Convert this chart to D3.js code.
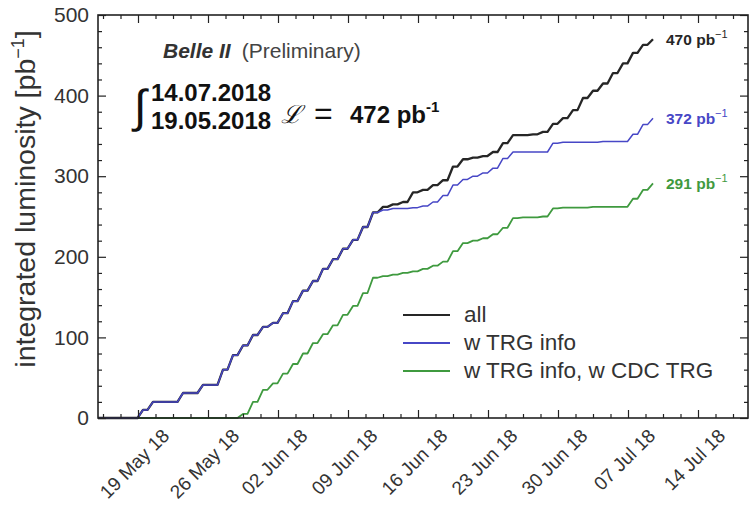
<!DOCTYPE html>
<html><head><meta charset="utf-8">
<script src="https://cdn.jsdelivr.net/npm/d3@7"></script>
<style>
body{margin:0;background:#fff}
svg{display:block}
text{font-family:"Liberation Sans",Arial,sans-serif}
</style>
</head><body>
<svg id="c" width="749" height="511"></svg>
<script>
// ---------- data ----------
const dates = ["2018-05-15 00",
 "2018-05-15 12","2018-05-16 12","2018-05-17 12","2018-05-18 12","2018-05-19 12","2018-05-20 12","2018-05-21 12","2018-05-22 12",
 "2018-05-23 12","2018-05-24 12","2018-05-25 12","2018-05-26 12","2018-05-27 12","2018-05-28 12","2018-05-29 12","2018-05-30 12",
 "2018-05-31 12","2018-06-01 12","2018-06-02 12","2018-06-03 12","2018-06-04 12","2018-06-05 12","2018-06-06 12","2018-06-07 12",
 "2018-06-08 12","2018-06-09 12","2018-06-10 12","2018-06-11 12","2018-06-12 12","2018-06-13 12","2018-06-14 12","2018-06-15 12",
 "2018-06-16 12","2018-06-17 12","2018-06-18 12","2018-06-19 12","2018-06-20 12","2018-06-21 12","2018-06-22 12","2018-06-23 12",
 "2018-06-24 12","2018-06-25 12","2018-06-26 12","2018-06-27 12","2018-06-28 12","2018-06-29 12","2018-06-30 12","2018-07-01 12",
 "2018-07-02 12","2018-07-03 12","2018-07-04 12","2018-07-05 12","2018-07-06 12","2018-07-07 12","2018-07-08 12","2018-07-09 12"];
const allLumi = [0,
 0,0,0,0,10,20,20,20, 31,31,41,41,60,78,90,103, 113,118,130,145,158,170,185,197,
 210,221,237,255,262,265,268,280, 283,289,295,312,321,323,325,330, 341,351,351,352,355,365,372,382,
 397,406,415,428,440,453,463,470];
const trgLumi = [0,
 0,0,0,0,10,20,20,20, 31,31,41,41,60,78,90,103, 113,118,130,145,158,170,185,197,
 210,221,237,255,258,260,260,261, 263,268,276,289,296,300,304,310, 322,330,330,330,330,341,342,342,
 342,342,343,343,343,352,364,372];
const cdcLumi = [0,
 0,0,0,0,0,0,0,0, 0,0,0,0,0,0,5,20, 35,43,55,67,80,93,104,115,
 128,139,155,174,176,178,180,182, 185,189,194,207,217,220,223,228, 236,248,249,249,250,260,261,261,
 261,262,262,262,262,272,283,291];
const seriesNames = ["all", "w TRG info", "w TRG info, w CDC TRG"];
const seriesColors = ["#262626", "#4747c6", "#3f9a3f"];
const endTotals = ["470", "372", "291"];
const yTickValues = [0, 100, 200, 300, 400, 500];
const xTickDates = ["2018-05-19","2018-05-26","2018-06-02","2018-06-09","2018-06-16","2018-06-23","2018-06-30","2018-07-07","2018-07-14"];

// ---------- layout ----------
const svg = d3.select("#c");
const L = 98, R = 748, T = 15, B = 418;
const parse = d3.timeParse("%Y-%m-%d %H");
const parseDay = d3.timeParse("%Y-%m-%d");
const x = d3.scaleTime().domain([parseDay("2018-05-15"), parseDay("2018-07-19")]).range([L, R]);
const y = d3.scaleLinear().domain([0, 500]).range([B, T]);

const tDates = dates.map(parse);
const majors = xTickDates.map(parseDay);
const minorX = [];
const step = 7 * 864e5 / 4;
for (let t = majors[0].getTime() - 3 * step; t <= x.domain()[1].getTime(); t += step) {
  if ((t - majors[0].getTime()) % (7 * 864e5) !== 0 && t >= x.domain()[0].getTime()) minorX.push(new Date(t));
}
const minorY = d3.range(0, 501, 20).filter(v => v % 100 !== 0);

// ramped step curve: hold value, then rise to the next point
function RampCurve(context) { this._context = context; }
RampCurve.prototype = {
  areaStart() {}, areaEnd() {},
  lineStart() { this._x = this._y = NaN; this._point = 0; },
  lineEnd() {},
  point(px, py) {
    px = +px; py = +py;
    if (this._point === 0) { this._point = 1; this._context.moveTo(px, py); }
    else {
      if (py === this._y) this._context.lineTo(px, py);
      else {
        this._context.lineTo(this._x + (px - this._x) * 0.45, this._y);
        this._context.lineTo(px, py);
      }
    }
    this._x = px; this._y = py;
  }
};
const curveRamp = ctx => new RampCurve(ctx);

// ---------- lines ----------
const line = d3.line().x((d, i) => x(tDates[i])).y(d => y(d)).curve(curveRamp);
const gLines = svg.append("g").attr("fill", "none").attr("stroke-linejoin", "round");
gLines.append("path").attr("d", line(cdcLumi)).attr("stroke", seriesColors[2]).attr("stroke-width", 1.8);
gLines.append("path").attr("d", line(allLumi)).attr("stroke", seriesColors[0]).attr("stroke-width", 2.3);
gLines.append("path").attr("d", line(trgLumi)).attr("stroke", seriesColors[1]).attr("stroke-width", 1.5);

// ---------- axes ----------
function styleAxis(g) {
  g.select(".domain").remove();
  g.selectAll(".tick line").attr("stroke", "#222").attr("stroke-width", 1.2);
}
const gB = svg.append("g").attr("transform", `translate(0,${B})`)
  .call(d3.axisBottom(x).tickValues(majors).tickSize(-8).tickSizeOuter(0).tickFormat(d3.timeFormat("%d %b %y")));
styleAxis(gB);
gB.selectAll(".tick text")
  .attr("fill", "#333").attr("font-size", 19).attr("y", 0).attr("dy", null)
  .attr("text-anchor", "middle").attr("dominant-baseline", "central")
  .attr("transform", function () {
    const w = this.getComputedTextLength();
    const off = (w + 15) * 0.7071 / 2;
    return `translate(-4,${9 + off}) rotate(-45)`;
  });
svg.append("g").attr("transform", `translate(0,${B})`)
  .call(d3.axisBottom(x).tickValues(minorX).tickSize(-4).tickSizeOuter(0).tickFormat("")).call(styleAxis);
svg.append("g").attr("transform", `translate(0,${T})`)
  .call(d3.axisTop(x).tickValues(majors).tickSize(-8).tickSizeOuter(0).tickFormat("")).call(styleAxis);
svg.append("g").attr("transform", `translate(0,${T})`)
  .call(d3.axisTop(x).tickValues(minorX).tickSize(-4).tickSizeOuter(0).tickFormat("")).call(styleAxis);
const gL = svg.append("g").attr("transform", `translate(${L},0)`)
  .call(d3.axisLeft(y).tickValues(yTickValues).tickSize(-8).tickSizeOuter(0).tickPadding(9));
styleAxis(gL);
gL.selectAll(".tick text").attr("fill", "#333").attr("font-size", 21);
svg.append("g").attr("transform", `translate(${L},0)`)
  .call(d3.axisLeft(y).tickValues(minorY).tickSize(-4).tickSizeOuter(0).tickFormat("")).call(styleAxis);
svg.append("g").attr("transform", `translate(${R},0)`)
  .call(d3.axisRight(y).tickValues(yTickValues).tickSize(-8).tickSizeOuter(0).tickFormat("")).call(styleAxis);
svg.append("g").attr("transform", `translate(${R},0)`)
  .call(d3.axisRight(y).tickValues(minorY).tickSize(-4).tickSizeOuter(0).tickFormat("")).call(styleAxis);
svg.append("rect").attr("x", L).attr("y", T).attr("width", R - L).attr("height", B - T)
  .attr("fill", "none").attr("stroke", "#222").attr("stroke-width", 1.6);

// y label
const yl = svg.append("text").attr("transform", "translate(35,199) rotate(-90)")
  .attr("text-anchor", "middle").attr("font-size", 28.5).attr("fill", "#333");
yl.append("tspan").text("integrated luminosity [pb");
yl.append("tspan").attr("font-size", 18).attr("dy", -11).text("\u22121");
yl.append("tspan").attr("dy", 11).text("]");

// ---------- annotations ----------
const t1 = svg.append("text").attr("x", 163).attr("y", 58).attr("font-size", 21).attr("fill", "#333");
t1.append("tspan").attr("font-weight", "bold").attr("font-style", "italic").text("Belle II");
t1.append("tspan").attr("dx", 11).attr("fill", "#444").text("(Preliminary)");

svg.append("text").attr("x", 134).attr("y", 122).attr("font-family", "DejaVu Serif").attr("font-size", 46).attr("fill", "#111").text("\u222B");
svg.append("text").attr("x", 151).attr("y", 101).attr("font-family", "Liberation Serif").attr("font-weight", "bold").attr("font-size", 24).attr("fill", "#111").text("14.07.2018");
svg.append("text").attr("x", 151).attr("y", 129).attr("font-family", "Liberation Serif").attr("font-weight", "bold").attr("font-size", 24).attr("fill", "#111").text("19.05.2018");
svg.append("text").attr("x", 281).attr("y", 123).attr("font-family", "DejaVu Serif").attr("font-style", "italic").attr("font-size", 25).attr("fill", "#111").text("\u2112");
svg.append("text").attr("x", 314).attr("y", 124).attr("font-size", 32).attr("fill", "#111").text("=");
const tot = svg.append("text").attr("x", 350).attr("y", 123).attr("font-weight", "bold").attr("font-size", 24).attr("fill", "#111");
tot.append("tspan").text("472 pb");
tot.append("tspan").attr("font-size", 15).attr("dy", -11).text("-1");

// end labels
const lastDate = tDates[tDates.length - 1];
[allLumi, trgLumi, cdcLumi].forEach((s, i) => {
  const t = svg.append("text").attr("x", x(lastDate) + 13).attr("y", y(s[s.length - 1]) + 6)
    .attr("font-size", 15.5).attr("font-weight", "bold").attr("fill", seriesColors[i]);
  t.append("tspan").text(endTotals[i] + " pb");
  t.append("tspan").attr("font-size", 11).attr("font-weight", "normal").attr("dy", -7).text("\u22121");
});

// legend
const lg = svg.append("g");
seriesNames.forEach((n, i) => {
  const yy = 315 + i * 28;
  lg.append("line").attr("x1", 403).attr("x2", 450).attr("y1", yy).attr("y2", yy)
    .attr("stroke", seriesColors[i]).attr("stroke-width", 2);
  lg.append("text").attr("x", 464).attr("y", yy + 7).attr("font-size", 22.5).attr("fill", "#333").text(n);
});
</script>
</body></html>
